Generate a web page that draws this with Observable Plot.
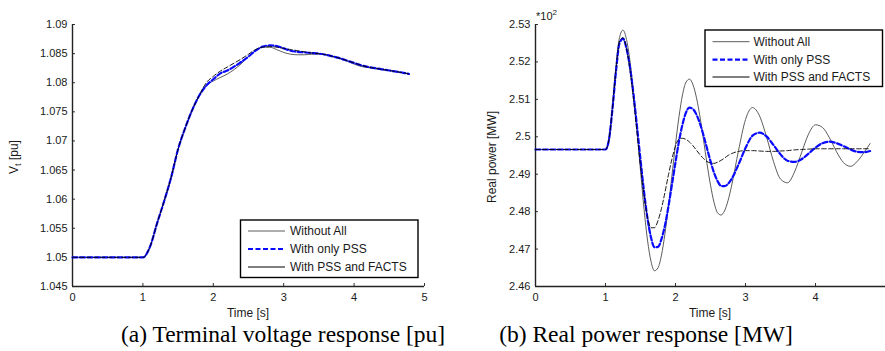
<!DOCTYPE html>
<html><head><meta charset="utf-8">
<script src="https://cdn.jsdelivr.net/npm/d3@7"></script>
<script src="https://cdn.jsdelivr.net/npm/@observablehq/plot@0.6"></script>
<style>
body{margin:0;background:#fff;}
#wrap{position:relative;width:885px;height:351px;overflow:hidden;font-family:"Liberation Sans",Arial,sans-serif;}
.pl{position:absolute;top:0;}
#ov{position:absolute;left:0;top:0;}
</style></head><body>
<div id="wrap"><div id="left" class="pl" style="left:0"></div><div id="right" class="pl" style="left:440px"></div>
<svg id="ov" width="885" height="351"></svg></div>
<script>
// ---- data ----
const seriesNames = ["Without All", "With only PSS", "With PSS and FACTS"];
const xTicks = [0, 1, 2, 3, 4, 5];

// (a) Terminal voltage [pu]
const tV = [0,1.0,1.1,1.2,1.3,1.4,1.5,1.6,1.7,1.8,1.9,2.0,2.1,2.2,2.3,2.4,2.5,2.6,2.7,2.8,2.9,3.0,3.1,3.2,3.3,3.4,3.5,3.6,3.7,3.8,3.9,4.0,4.1,4.2,4.3,4.4,4.5,4.6,4.7,4.78];
const vWithoutAll = [1.0500,1.0500,1.0518,1.0558,1.0596,1.0637,1.0686,1.0722,1.0753,1.0778,1.0795,1.0803,1.0809,1.0815,1.0823,1.0833,1.0845,1.0855,1.0861,1.0861,1.0857,1.0852,1.0849,1.0848,1.0848,1.0849,1.0849,1.0848,1.0845,1.0841,1.0837,1.0832,1.0828,1.0826,1.0824,1.0822,1.0821,1.0819,1.0817,1.0815];
const vOnlyPSS = [1.0500,1.0500,1.0518,1.0558,1.0596,1.0637,1.0686,1.0722,1.0753,1.0778,1.0795,1.0806,1.0816,1.0821,1.0828,1.0836,1.0845,1.0855,1.0862,1.0864,1.0863,1.0859,1.0855,1.0853,1.0852,1.0851,1.0850,1.0848,1.0845,1.0842,1.0838,1.0834,1.0830,1.0827,1.0825,1.0823,1.0821,1.0819,1.0817,1.0815];
const vPSSFACTS = [1.0500,1.0500,1.0518,1.0558,1.0596,1.0637,1.0686,1.0722,1.0753,1.0778,1.0800,1.0811,1.0820,1.0827,1.0834,1.0841,1.0849,1.0857,1.0861,1.0862,1.0861,1.0859,1.0857,1.0855,1.0853,1.0851,1.0850,1.0848,1.0845,1.0842,1.0838,1.0834,1.0830,1.0827,1.0825,1.0823,1.0821,1.0819,1.0817,1.0815];
const vTicks = [1.045,1.05,1.055,1.06,1.065,1.07,1.075,1.08,1.085,1.09];

// (b) Real power [*10^2 MW]
const tP = [0,1.0,1.05,1.1,1.15,1.2,1.25,1.3,1.35,1.4,1.45,1.5,1.55,1.6,1.65,1.7,1.75,1.8,1.85,1.9,1.95,2.0,2.05,2.1,2.15,2.2,2.25,2.3,2.35,2.4,2.45,2.5,2.55,2.6,2.65,2.7,2.75,2.8,2.9,3.0,3.1,3.2,3.3,3.4,3.5,3.6,3.7,3.8,3.9,4.0,4.1,4.2,4.3,4.4,4.5,4.6,4.7,4.78];
const pWithoutAll = [2.4966,2.4966,2.4995,2.5085,2.5190,2.5265,2.5285,2.5260,2.5202,2.5118,2.5016,2.4910,2.4808,2.4724,2.4667,2.4642,2.4650,2.4684,2.4742,2.4816,2.4898,2.4980,2.5054,2.5112,2.5146,2.5154,2.5139,2.5104,2.5053,2.4992,2.4928,2.4871,2.4825,2.4797,2.4791,2.4802,2.4829,2.4868,2.4963,2.5046,2.5078,2.5056,2.5000,2.4934,2.4887,2.4877,2.4906,2.4957,2.5007,2.5032,2.5025,2.4997,2.4960,2.4931,2.4921,2.4935,2.4960,2.4982];
const pOnlyPSS = [2.4966,2.4966,2.4993,2.5075,2.5175,2.5250,2.5262,2.5236,2.5185,2.5113,2.5028,2.4939,2.4854,2.4782,2.4731,2.4705,2.4706,2.4727,2.4764,2.4815,2.4873,2.4932,2.4988,2.5033,2.5065,2.5078,2.5074,2.5059,2.5035,2.5004,2.4969,2.4935,2.4904,2.4882,2.4869,2.4868,2.4874,2.4887,2.4926,2.4970,2.5003,2.5011,2.5001,2.4978,2.4953,2.4936,2.4933,2.4940,2.4955,2.4971,2.4983,2.4987,2.4983,2.4975,2.4966,2.4960,2.4959,2.4962];
const pPSSFACTS = [2.4966,2.4966,2.4993,2.5078,2.5180,2.5255,2.5265,2.5236,2.5179,2.5100,2.5011,2.4921,2.4843,2.4785,2.4757,2.4757,2.4776,2.4809,2.4852,2.4899,2.4941,2.4975,2.4994,2.4996,2.4993,2.4986,2.4976,2.4964,2.4952,2.4942,2.4934,2.4930,2.4929,2.4932,2.4937,2.4943,2.4950,2.4955,2.4961,2.4963,2.4963,2.4962,2.4961,2.4961,2.4962,2.4963,2.4965,2.4966,2.4967,2.4968,2.4968,2.4968,2.4968,2.4968,2.4968,2.4968,2.4968,2.4968];
const pTicks = [2.46,2.47,2.48,2.49,2.5,2.51,2.52,2.53];

// ---- styles ----
const styles = [
  {stroke: "#4a4a4a", strokeWidth: 0.9},
  {stroke: "#0a0aff", strokeWidth: 2.2, strokeDasharray: "5,2.5"},
  {stroke: "#000", strokeWidth: 0.9, strokeDasharray: "4.5,2.5"}
];

function chart(t, ys, yDomain, yTicks, width, marginLeft, marginRight, digits, xLabelMax) {
  const marks = [];
  ys.forEach((vals, i) => {
    const rows = t.map((x, j) => ({t: x, v: vals[j], s: seriesNames[i]}));
    marks.push(Plot.line(rows, {x: "t", y: "v", curve: "monotone-x", ...styles[i]}));
  });
  return Plot.plot({
    width, height: 320, marginLeft, marginRight, marginTop: 24, marginBottom: 34,
    style: {fontFamily: "'Liberation Sans', Arial, sans-serif", fontSize: "11px", color: "#1a1a1a", background: "transparent", overflow: "visible"},
    x: {domain: [0, 5], label: null},
    y: {domain: yDomain, label: null},
    marks: [
      Plot.axisX(xTicks, {tickSize: -3, tickPadding: 10, tickFormat: d => d <= xLabelMax ? String(d) : "", stroke: "#333"}),
      Plot.axisY(yTicks, {tickSize: -3, tickPadding: 8, tickFormat: d => String(+d.toFixed(digits)), stroke: "#333"}),
      Plot.ruleY([yDomain[0]], {stroke: "#222", strokeWidth: 1.4}),
      Plot.ruleX([0], {stroke: "#222", strokeWidth: 1.4}),
      ...marks
    ]
  });
}

document.getElementById("left").appendChild(
  chart(tV, [vWithoutAll, vOnlyPSS, vPSSFACTS], [1.045, 1.09], vTicks, 440, 72, 16, 3, 5));
document.getElementById("right").appendChild(
  chart(tP, [pWithoutAll, pOnlyPSS, pPSSFACTS], [2.46, 2.53], pTicks, 445, 95, 0, 2, 4));

// ---- overlay text: labels, legends, captions ----
const ov = d3.select("#ov");
const sans = "'Liberation Sans', Arial, sans-serif";
const serif = "'Liberation Serif', 'Times New Roman', serif";

const yl = ov.append("text").attr("transform", "translate(18,157) rotate(-90)")
  .attr("text-anchor", "middle").attr("font-family", sans).attr("font-size", 12).attr("fill", "#1a1a1a");
yl.append("tspan").text("V");
yl.append("tspan").attr("font-size", 9).attr("dy", 3).text("t");
yl.append("tspan").attr("dy", -3).text(" [pu]");

ov.append("text").attr("transform", "translate(496,157) rotate(-90)")
  .attr("text-anchor", "middle").attr("font-family", sans).attr("font-size", 12).attr("fill", "#1a1a1a")
  .text("Real power [MW]");

[[248, "Time [s]"], [710, "Time [s]"]].forEach(([x, s]) =>
  ov.append("text").attr("x", x).attr("y", 317).attr("text-anchor", "middle")
    .attr("font-family", sans).attr("font-size", 12).attr("fill", "#1a1a1a").text(s));

const mul = ov.append("text").attr("x", 536).attr("y", 20).attr("font-family", sans).attr("font-size", 11).attr("fill", "#1a1a1a");
mul.append("tspan").text("*10");
mul.append("tspan").attr("dy", -5).attr("font-size", 8).text("2");

function legend(x, y, w, h, lx1, lx2, tx, rowYs) {
  ov.append("rect").attr("x", x).attr("y", y).attr("width", w).attr("height", h)
    .attr("fill", "#fff").attr("stroke", "#000").attr("stroke-width", 1.4);
  const legStyles = [styles[0], styles[1], {stroke: "#000", strokeWidth: 1}];
  seriesNames.forEach((name, i) => {
    const st = legStyles[i];
    ov.append("line").attr("x1", lx1).attr("x2", lx2).attr("y1", rowYs[i]).attr("y2", rowYs[i])
      .attr("stroke", st.stroke).attr("stroke-width", st.strokeWidth)
      .attr("stroke-dasharray", st.strokeDasharray || null);
    ov.append("text").attr("x", tx).attr("y", rowYs[i] + 4.2).attr("font-family", sans)
      .attr("font-size", 12).attr("fill", "#1a1a1a").text(name);
  });
}
legend(240.5, 220, 177.5, 57.5, 248, 285, 290, [231, 249, 267]);
legend(705, 30, 177.5, 56.5, 712.5, 749.5, 753.5, [41.7, 59.7, 77]);

[[283, "(a) Terminal voltage response [pu]"], [646, "(b) Real power response [MW]"]].forEach(([x, s]) =>
  ov.append("text").attr("x", x).attr("y", 342).attr("text-anchor", "middle")
    .attr("font-family", serif).attr("font-size", 23.5).attr("fill", "#000").text(s));
</script>
</body></html>
